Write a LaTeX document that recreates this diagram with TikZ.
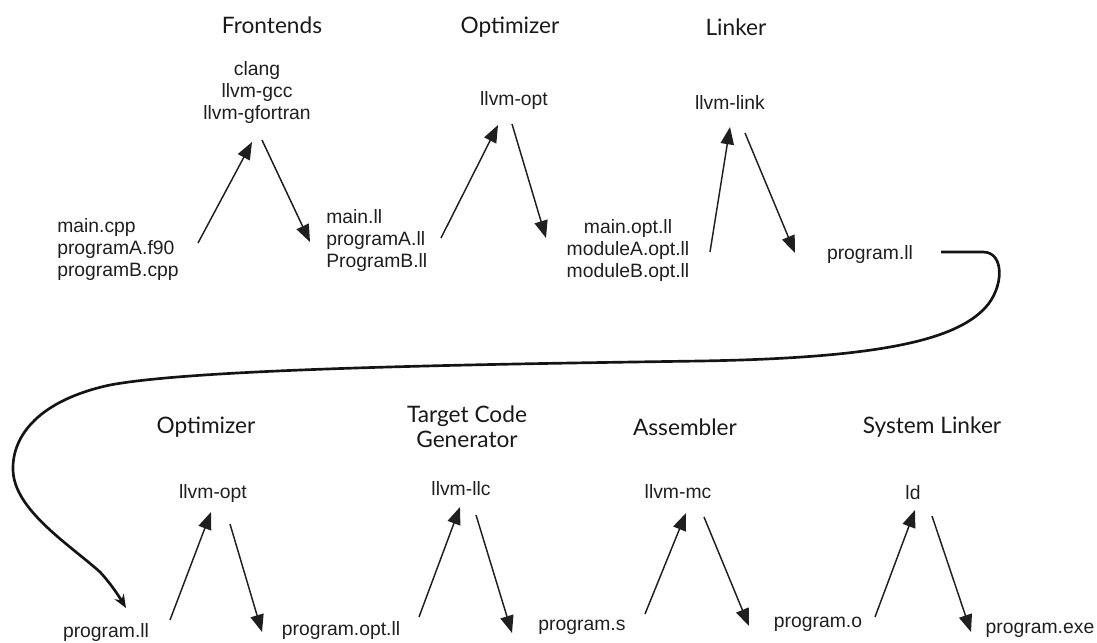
\documentclass[tikz,border=0pt]{standalone}
\usepackage{fontspec}
\setmainfont{Liberation Sans}
\newfontfamily\handfont{Lato}
\usetikzlibrary{arrows.meta}

\begin{document}
\begin{tikzpicture}[x=0.75pt,y=-0.75pt]
	  \useasboundingbox (0,0) rectangle (1097,643);
	  \tikzset{FileStyle/.style = {align         = left,
	                               inner sep     = 0pt,
	                               text          = black!88,
	                               font          = \fontsize{14.5}{16.5}\selectfont}}

	  \tikzset{ToolStyle/.style = {FileStyle,
	                               align         = center}}

	  \tikzset{StageStyle/.style = {align        = center,
	                                inner sep    = 0pt,
	                                text         = black!90,
	                                font         = \handfont\fontsize{17}{19}\selectfont}}

	  \tikzset{EdgeStyle/.style   = {line width = 1.1pt, black!88,
	                                 -{Triangle[length=13pt,width=10pt]}}}

	  \tikzset{LoopStyle/.style   = {line width = 2pt, black!92,
	                                 -{Stealth[length=10pt,width=8pt]}}}

	     % stages
	     \node[StageStyle] (S_1) at (272,25)  {Frontends};
	     \node[StageStyle] (S_2) at (510,27)  {Optimizer};
	     \node[StageStyle] (S_3) at (736,27)  {Linker};
	     \node[StageStyle] (S_4) at (206,427) {Optimizer};
	     \node[StageStyle] (S_5) at (467,427) {Target Code\\Generator};
	     \node[StageStyle] (S_6) at (685,427) {Assembler};
	     \node[StageStyle] (S_7) at (932,427) {System Linker};

	     % tools
	     \node[ToolStyle] (T_1) at (257,92)  {clang\\llvm-gcc\\llvm-gfortran};
	     \node[ToolStyle] (T_2) at (514,100) {llvm-opt};
	     \node[ToolStyle] (T_3) at (730,102) {llvm-link};
	     \node[ToolStyle] (T_4) at (213,493) {llvm-opt};
	     \node[ToolStyle] (T_5) at (461,489) {llvm-llc};
	     \node[ToolStyle] (T_6) at (678,492) {llvm-mc};
	     \node[ToolStyle] (T_7) at (913,493) {ld};

	     % files
	     \node[FileStyle,anchor=west] (F_1) at (57,249)  {main.cpp\\programA.f90\\programB.cpp};
	     \node[FileStyle,anchor=west] (F_2) at (326,240) {main.ll\\programA.ll\\ProgramB.ll};
	     \node[FileStyle,align=center] (F_3) at (628,250) {main.opt.ll\\moduleA.opt.ll\\moduleB.opt.ll};
	     \node[FileStyle] (F_4) at (870,254)  {program.ll};
	     \node[FileStyle] (F_5) at (106,632)  {program.ll};
	     \node[FileStyle] (F_6) at (341,630)  {program.opt.ll};
	     \node[FileStyle] (F_7) at (582,627)  {program.s};
	     \node[FileStyle] (F_8) at (818,624)  {program.o};
	     \node[FileStyle] (F_9) at (1040,630) {program.exe};

	     \draw[EdgeStyle] ([shift={(141,-6)}]F_1.west) to ([shift={(-5,50)}]T_1.center);
	     \draw[EdgeStyle] ([shift={(5,48)}]T_1.center) to ([shift={(-16,2)}]F_2.west);
	     \draw[EdgeStyle] ([shift={(115,-2)}]F_2.west) to ([shift={(-16,25)}]T_2.center);
	     \draw[EdgeStyle] ([shift={(-2,24)}]T_2.center) to ([shift={(-82,-12)}]F_3.center);
	     \draw[EdgeStyle] ([shift={(82,2)}]F_3.center) to ([shift={(0,25)}]T_3.center);
	     \draw[EdgeStyle] ([shift={(15,31)}]T_3.center) to ([shift={(-75,-1)}]F_4.center);

	     % long way round to the second row
	     \draw[LoopStyle] ([shift={(71,-2)}]F_4.center) -- (983,252)
	           .. controls (1005,252) and (1004,288) .. (985,308)
	           .. controls (955,340) and (880,358) .. (700,361)
	           .. controls (500,364) and (200,368) .. (110,385)
	           .. controls (40,400) and (12,435) .. (13,470)
	           .. controls (14,510) and (70,545) .. (100,572)
	           .. controls (112,585) and (120,598) .. ([shift={(20,-24)}]F_5.center);

	     \draw[EdgeStyle] ([shift={(64,-12)}]F_5.center) to ([shift={(-2,19)}]T_4.center);
	     \draw[EdgeStyle] ([shift={(17,31)}]T_4.center) to ([shift={(-79,2)}]F_6.center);
	     \draw[EdgeStyle] ([shift={(78,-13)}]F_6.center) to ([shift={(-1,18)}]T_5.center);
	     \draw[EdgeStyle] ([shift={(15,26)}]T_5.center) to ([shift={(-70,6)}]F_7.center);
	     \draw[EdgeStyle] ([shift={(63,-13)}]F_7.center) to ([shift={(8,21)}]T_6.center);
	     \draw[EdgeStyle] ([shift={(26,25)}]T_6.center) to ([shift={(-69,2)}]F_8.center);
	     \draw[EdgeStyle] ([shift={(57,-7)}]F_8.center) to ([shift={(2,17)}]T_7.center);
	     \draw[EdgeStyle] ([shift={(19,23)}]T_7.center) to ([shift={(-69,2)}]F_9.center);
\end{tikzpicture}
\end{document}
